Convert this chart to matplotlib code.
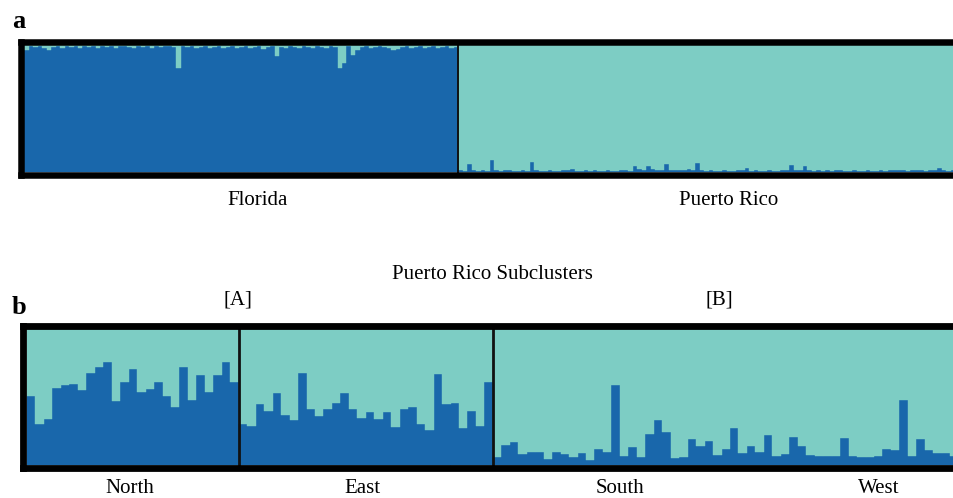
import numpy as np
import matplotlib.pyplot as plt

# STRUCTURE ancestry proportions (fraction of the dark-blue cluster per individual)
florida = [0.96, 0.99, 0.985, 0.99, 0.975, 0.96, 0.985, 0.99, 0.98, 0.99,
           0.985, 0.99, 0.98, 0.99, 0.985, 0.99, 0.98, 0.99, 0.985, 0.99,
           0.98, 0.99, 0.99, 0.985, 0.98, 0.99, 0.985, 0.99, 0.98, 0.99,
           0.985, 0.99, 0.99, 0.985, 0.82, 0.99, 0.985, 0.99, 0.98, 0.985,
           0.99, 0.98, 0.985, 0.99, 0.98, 0.985, 0.99, 0.98, 0.985, 0.99,
           0.98, 0.985, 0.99, 0.97, 0.985, 0.99, 0.91, 0.985, 0.98, 0.99,
           0.985, 0.98, 0.99, 0.985, 0.98, 0.99, 0.985, 0.98, 0.99, 0.985,
           0.82, 0.86, 0.99, 0.92, 0.96, 0.985, 0.99, 0.98, 0.985, 0.99,
           0.985, 0.98, 0.96, 0.965, 0.985, 0.99, 0.98, 0.985, 0.99, 0.98,
           0.985, 0.99, 0.98, 0.985, 0.99, 0.98, 0.985]
puerto_rico = [0.01, 0.008, 0.06, 0.01, 0.006, 0.01, 0.008, 0.09, 0.01, 0.006,
               0.012, 0.01, 0.008, 0.006, 0.01, 0.008, 0.08, 0.01, 0.006, 0.008,
               0.01, 0.006, 0.008, 0.01, 0.012, 0.02, 0.008, 0.006, 0.01, 0.008,
               0.015, 0.006, 0.008, 0.01, 0.006, 0.008, 0.01, 0.012, 0.008, 0.045,
               0.025, 0.015, 0.045, 0.02, 0.015, 0.012, 0.06, 0.015, 0.012, 0.01,
               0.015, 0.02, 0.012, 0.07, 0.01, 0.008, 0.01, 0.008, 0.006, 0.01,
               0.008, 0.006, 0.01, 0.012, 0.026, 0.008, 0.01, 0.006, 0.008, 0.01,
               0.006, 0.008, 0.01, 0.012, 0.05, 0.01, 0.012, 0.045, 0.01, 0.008,
               0.01, 0.006, 0.012, 0.008, 0.01, 0.015, 0.008, 0.006, 0.01, 0.008,
               0.006, 0.01, 0.008, 0.006, 0.01, 0.008, 0.01, 0.012, 0.015, 0.01,
               0.008, 0.01, 0.012, 0.01, 0.008, 0.012, 0.01, 0.026, 0.01, 0.008,
               0.01]

north = [0.51, 0.30, 0.34, 0.57, 0.59, 0.60, 0.55, 0.68, 0.72, 0.76,
         0.47, 0.61, 0.71, 0.54, 0.56, 0.61, 0.51, 0.43, 0.72, 0.48,
         0.66, 0.54, 0.66, 0.76, 0.61]
east = [0.30, 0.29, 0.45, 0.40, 0.53, 0.37, 0.33, 0.68, 0.41, 0.36,
        0.41, 0.46, 0.53, 0.41, 0.35, 0.39, 0.34, 0.39, 0.28, 0.41,
        0.43, 0.30, 0.26, 0.67, 0.45, 0.46, 0.27, 0.40, 0.29, 0.61]
south_west = [0.056, 0.146, 0.166, 0.078, 0.098, 0.093, 0.044, 0.093, 0.08, 0.06,
              0.085, 0.037, 0.12, 0.093, 0.59, 0.066, 0.13, 0.06, 0.23, 0.33,
              0.24, 0.054, 0.06, 0.195, 0.14, 0.18, 0.073, 0.12, 0.276, 0.09,
              0.14, 0.098, 0.22, 0.066, 0.078, 0.21, 0.14, 0.073, 0.068, 0.068,
              0.068, 0.20, 0.066, 0.056, 0.06, 0.066, 0.115, 0.11, 0.48, 0.066,
              0.195, 0.11, 0.09, 0.085, 0.068]

DARK = '#1967ab'
LIGHT = '#7dcdc4'
W, H = 954, 498


def px_axes(fig, left, top, right, bottom):
    return fig.add_axes([left / W, 1 - bottom / H, (right - left) / W, (bottom - top) / H])


def structure_panel(ax, values, outer, inner, bar_px, border_px):
    # outer: (left, top, right, bottom) of axes in px (border centre lines)
    # inner: (left, top, bottom) where bars start
    vals = np.array(values)
    x = np.arange(len(vals))
    ax.bar(x, vals, width=1, align='edge', color=DARK, edgecolor=DARK, lw=0.3)
    ax.bar(x, 1 - vals, bottom=vals, width=1, align='edge', color=LIGHT, edgecolor=LIGHT, lw=0.3)
    ol, ot, orr, ob = outer
    il, it, ib = inner
    ax.set_xlim(-(il - ol) / bar_px, (orr - il) / bar_px)
    span = ib - it
    ax.set_ylim(-(ob - ib) / span, 1 + (it - ot) / span)
    ax.set_xticks([])
    ax.set_yticks([])
    for s in ['left', 'top', 'bottom']:
        ax.spines[s].set_linewidth(border_px * 0.72)
        ax.spines[s].set_color('black')
    ax.spines['right'].set_visible(False)


plt.rcParams['font.family'] = ['Liberation Serif', 'DejaVu Serif']
fig = plt.figure(figsize=(W / 100, H / 100), dpi=100)

# panel a
ax_a = px_axes(fig, 21.3, 42.2, 960, 175)
structure_panel(ax_a, florida + puerto_rico, (21.3, 42.2, 960, 175), (24.3, 45, 171.7),
                (955 - 24.3) / (len(florida) + len(puerto_rico)), 6.5)
ax_a.axvline(len(florida), color='#111111', lw=1.4)

# panel b
sub = north + east + south_west
ax_b = px_axes(fig, 23.4, 325.8, 960, 467.9)
structure_panel(ax_b, sub, (23.4, 325.8, 960, 467.9), (27, 329.3, 465), 8.47, 6.8)
ax_b.axvline(len(north), color='#111111', lw=2.0)
ax_b.axvline(len(north) + len(east), color='#111111', lw=2.0)

fs = 15


def label(x, y, s, **kw):
    fig.text(x / W, 1 - y / H, s, fontsize=kw.pop('fontsize', fs), va='baseline', **kw)


label(12, 28, 'a', ha='left', fontweight='bold', fontsize=19)
label(12, 314, 'b', ha='left', fontweight='bold', fontsize=19)
label(258, 205, 'Florida', ha='center')
label(729, 205, 'Puerto Rico', ha='center')
label(492.5, 279, 'Puerto Rico Subclusters', ha='center')
label(238, 304, '[A]', ha='center')
label(719, 304, '[B]', ha='center')
label(130, 493, 'North', ha='center')
label(362, 493, 'East', ha='center')
label(620, 493, 'South', ha='center')
label(879, 493, 'West', ha='center')

fig.savefig('out.png', dpi=100)
